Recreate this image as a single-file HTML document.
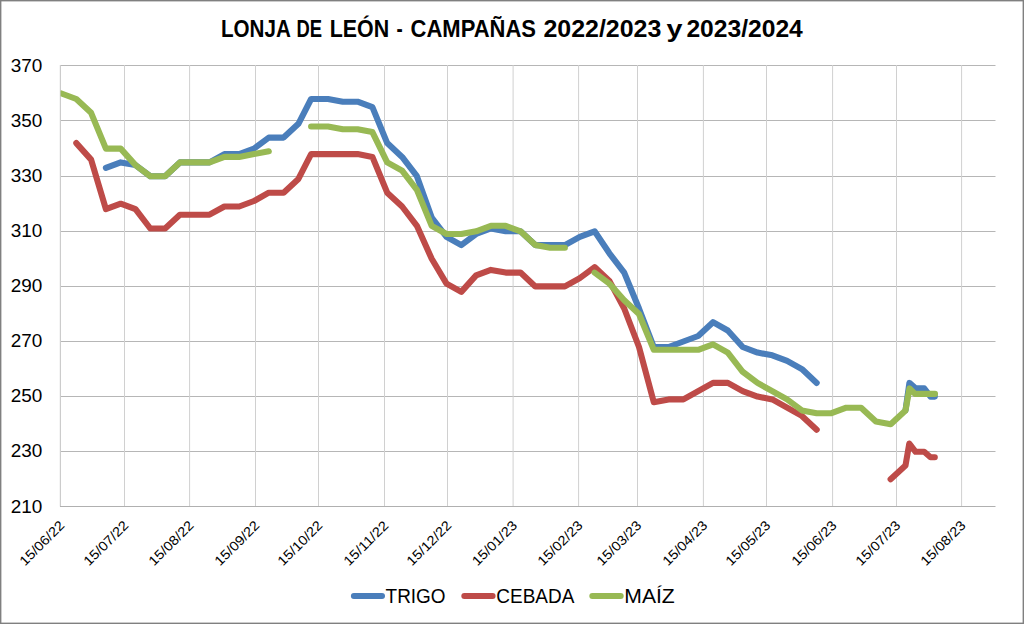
<!DOCTYPE html>
<html><head><meta charset="utf-8"><title>LONJA DE LEÓN - CAMPAÑAS 2022/2023 y 2023/2024</title>
<style>
html,body{margin:0;padding:0;background:#fff;}
body{width:1024px;height:624px;overflow:hidden;}
svg{display:block;}
text{font-family:"Liberation Sans", sans-serif;fill:#000;}
</style></head>
<body>
<svg width="1024" height="624" viewBox="0 0 1024 624">
<rect x="0" y="0" width="1024" height="624" fill="#fff"/>
<rect x="0.7" y="0.7" width="1022.6" height="622.6" fill="none" stroke="#808080" stroke-width="1.4"/>
<g font-weight="bold" font-size="24"><text x="221.00" y="37" textLength="69.80" lengthAdjust="spacingAndGlyphs">LONJA</text><text x="296.40" y="37" textLength="25.60" lengthAdjust="spacingAndGlyphs">DE</text><text x="329.80" y="37" textLength="59.40" lengthAdjust="spacingAndGlyphs">LEÓN</text><text x="396.40" y="37" textLength="6.20" lengthAdjust="spacingAndGlyphs">-</text><text x="410.60" y="37" textLength="125.40" lengthAdjust="spacingAndGlyphs">CAMPAÑAS</text><text x="543.40" y="37" textLength="118.00" lengthAdjust="spacingAndGlyphs">2022/2023</text><text x="666.40" y="37" textLength="16.00" lengthAdjust="spacingAndGlyphs">y</text><text x="686.40" y="37" textLength="116.40" lengthAdjust="spacingAndGlyphs">2023/2024</text></g>
<g stroke-width="1" fill="none">
<line x1="60" y1="65.5" x2="995.5" y2="65.5" stroke="#b6b6b6"/>
<line x1="60" y1="120.5" x2="995.5" y2="120.5" stroke="#b6b6b6"/>
<line x1="60" y1="176.5" x2="995.5" y2="176.5" stroke="#b6b6b6"/>
<line x1="60" y1="231.5" x2="995.5" y2="231.5" stroke="#b6b6b6"/>
<line x1="60" y1="286.5" x2="995.5" y2="286.5" stroke="#b6b6b6"/>
<line x1="60" y1="341.5" x2="995.5" y2="341.5" stroke="#b6b6b6"/>
<line x1="60" y1="396.5" x2="995.5" y2="396.5" stroke="#b6b6b6"/>
<line x1="60" y1="451.5" x2="995.5" y2="451.5" stroke="#b6b6b6"/>
<line x1="124.5" y1="65" x2="124.5" y2="506.5" stroke="#d0d0d0"/>
<line x1="189.6" y1="65" x2="189.6" y2="506.5" stroke="#d0d0d0"/>
<line x1="255.5" y1="65" x2="255.5" y2="506.5" stroke="#d0d0d0"/>
<line x1="318.5" y1="65" x2="318.5" y2="506.5" stroke="#d0d0d0"/>
<line x1="384.5" y1="65" x2="384.5" y2="506.5" stroke="#d0d0d0"/>
<line x1="447.5" y1="65" x2="447.5" y2="506.5" stroke="#d0d0d0"/>
<line x1="513.1" y1="65" x2="513.1" y2="506.5" stroke="#d0d0d0"/>
<line x1="578.6" y1="65" x2="578.6" y2="506.5" stroke="#d0d0d0"/>
<line x1="637.5" y1="65" x2="637.5" y2="506.5" stroke="#d0d0d0"/>
<line x1="703.4" y1="65" x2="703.4" y2="506.5" stroke="#d0d0d0"/>
<line x1="766.5" y1="65" x2="766.5" y2="506.5" stroke="#d0d0d0"/>
<line x1="832.6" y1="65" x2="832.6" y2="506.5" stroke="#d0d0d0"/>
<line x1="896.5" y1="65" x2="896.5" y2="506.5" stroke="#d0d0d0"/>
<line x1="961.6" y1="65" x2="961.6" y2="506.5" stroke="#d0d0d0"/>
</g>
<line x1="60.4" y1="65" x2="60.4" y2="506.5" stroke="#cccccc" stroke-width="1.2"/>
<line x1="60" y1="506.5" x2="995.5" y2="506.5" stroke="#b0b0b0" stroke-width="1"/>
<g font-size="17.5">
<text x="42.4" y="72.1" text-anchor="end" textLength="31.6" lengthAdjust="spacingAndGlyphs">370</text>
<text x="42.4" y="127.2" text-anchor="end" textLength="31.6" lengthAdjust="spacingAndGlyphs">350</text>
<text x="42.4" y="182.3" text-anchor="end" textLength="31.6" lengthAdjust="spacingAndGlyphs">330</text>
<text x="42.4" y="237.2" text-anchor="end" textLength="31.6" lengthAdjust="spacingAndGlyphs">310</text>
<text x="42.4" y="291.8" text-anchor="end" textLength="31.6" lengthAdjust="spacingAndGlyphs">290</text>
<text x="42.4" y="346.9" text-anchor="end" textLength="31.6" lengthAdjust="spacingAndGlyphs">270</text>
<text x="42.4" y="402.1" text-anchor="end" textLength="31.6" lengthAdjust="spacingAndGlyphs">250</text>
<text x="42.4" y="457.2" text-anchor="end" textLength="31.6" lengthAdjust="spacingAndGlyphs">230</text>
<text x="42.4" y="513.1" text-anchor="end" textLength="31.6" lengthAdjust="spacingAndGlyphs">210</text>
</g>
<g font-size="13.4">
<text transform="translate(65.2,526.3) rotate(-45)" text-anchor="end" textLength="57" lengthAdjust="spacingAndGlyphs">15/06/22</text>
<text transform="translate(129.3,526.3) rotate(-45)" text-anchor="end" textLength="57" lengthAdjust="spacingAndGlyphs">15/07/22</text>
<text transform="translate(194.4,526.3) rotate(-45)" text-anchor="end" textLength="57" lengthAdjust="spacingAndGlyphs">15/08/22</text>
<text transform="translate(260.3,526.3) rotate(-45)" text-anchor="end" textLength="57" lengthAdjust="spacingAndGlyphs">15/09/22</text>
<text transform="translate(323.3,526.3) rotate(-45)" text-anchor="end" textLength="57" lengthAdjust="spacingAndGlyphs">15/10/22</text>
<text transform="translate(389.3,526.3) rotate(-45)" text-anchor="end" textLength="57" lengthAdjust="spacingAndGlyphs">15/11/22</text>
<text transform="translate(452.3,526.3) rotate(-45)" text-anchor="end" textLength="57" lengthAdjust="spacingAndGlyphs">15/12/22</text>
<text transform="translate(517.9,526.3) rotate(-45)" text-anchor="end" textLength="57" lengthAdjust="spacingAndGlyphs">15/01/23</text>
<text transform="translate(583.4,526.3) rotate(-45)" text-anchor="end" textLength="57" lengthAdjust="spacingAndGlyphs">15/02/23</text>
<text transform="translate(642.3,526.3) rotate(-45)" text-anchor="end" textLength="57" lengthAdjust="spacingAndGlyphs">15/03/23</text>
<text transform="translate(708.2,526.3) rotate(-45)" text-anchor="end" textLength="57" lengthAdjust="spacingAndGlyphs">15/04/23</text>
<text transform="translate(771.3,526.3) rotate(-45)" text-anchor="end" textLength="57" lengthAdjust="spacingAndGlyphs">15/05/23</text>
<text transform="translate(837.4,526.3) rotate(-45)" text-anchor="end" textLength="57" lengthAdjust="spacingAndGlyphs">15/06/23</text>
<text transform="translate(901.3,526.3) rotate(-45)" text-anchor="end" textLength="57" lengthAdjust="spacingAndGlyphs">15/07/23</text>
<text transform="translate(966.4,526.3) rotate(-45)" text-anchor="end" textLength="57" lengthAdjust="spacingAndGlyphs">15/08/23</text>
</g>
<defs><clipPath id="pa"><rect x="60.6" y="60" width="935" height="446"/></clipPath></defs>
<g fill="none" stroke-width="6.1" stroke-linejoin="round" stroke-linecap="round" clip-path="url(#pa)">
<polyline stroke="#4A7EBB" points="105.9,167.9 120.7,162.4 135.5,165.1 150.3,176.2 165.1,176.2 179.9,162.4 194.7,162.4 209.5,162.4 224.4,154.1 239.2,154.1 254.0,148.6 268.8,137.6 283.6,137.6 298.4,123.8 311.1,99.0 328.0,99.0 342.8,101.7 357.6,101.7 372.4,107.2 387.2,143.1 402.1,156.9 416.9,176.2 431.7,217.5 446.5,236.8 461.3,245.1 476.1,234.0 490.9,228.5 505.7,231.3 520.5,231.3 535.3,245.1 550.1,245.1 564.9,245.1 579.8,236.8 594.6,231.3 609.4,253.3 624.2,272.6 639.0,308.5 653.8,347.0 668.6,347.0 683.4,341.5 698.2,336.0 713.0,322.2 727.8,330.5 742.7,347.0 757.5,352.6 772.3,355.3 787.1,360.8 801.9,369.1 816.7,382.9"/>
<polyline stroke="#4A7EBB" points="905.5,410.4 909.4,382.9 915.6,388.4 924.2,388.4 930.5,396.6 934.8,396.6"/>
<polyline stroke="#BE4B48" points="76.3,143.1 91.1,159.6 105.9,209.2 120.7,203.7 135.5,209.2 150.3,228.5 165.1,228.5 179.9,214.7 194.7,214.7 209.5,214.7 224.4,206.5 239.2,206.5 254.0,201.0 268.8,192.7 283.6,192.7 298.4,178.9 311.1,154.1 328.0,154.1 342.8,154.1 357.6,154.1 372.4,156.9 387.2,192.7 402.1,206.5 416.9,225.8 431.7,258.8 446.5,283.6 461.3,291.9 476.1,275.4 490.9,269.9 505.7,272.6 520.5,272.6 535.3,286.4 550.1,286.4 564.9,286.4 579.8,278.1 594.6,267.1 609.4,280.9 624.2,308.5 639.0,347.0 653.8,402.2 668.6,399.4 683.4,399.4 698.2,391.1 713.0,382.9 727.8,382.9 742.7,391.1 757.5,396.6 772.3,399.4 787.1,407.7 801.9,415.9 816.7,429.7"/>
<polyline stroke="#BE4B48" points="890.6,479.3 905.5,465.6 909.3,443.5 915.6,451.8 924.2,451.8 930.5,457.3 934.8,457.3"/>
<polyline stroke="#98B954" points="61.5,93.5 76.3,99.0 91.1,112.8 105.9,148.6 120.7,148.6 135.5,165.1 150.3,176.2 165.1,176.2 179.9,162.4 194.7,162.4 209.5,162.4 224.4,156.9 239.2,156.9 254.0,154.1 268.8,151.3"/>
<polyline stroke="#98B954" points="311.1,126.5 328.0,126.5 342.8,129.3 357.6,129.3 372.4,132.1 387.2,162.4 402.1,170.6 416.9,189.9 431.7,225.8 446.5,234.0 461.3,234.0 476.1,231.3 490.9,225.8 505.7,225.8 520.5,231.3 535.3,245.1 550.1,247.8 564.9,247.8"/>
<polyline stroke="#98B954" points="594.6,272.6 609.4,283.6 624.2,300.2 639.0,314.0 653.8,349.8 668.6,349.8 683.4,349.8 698.2,349.8 713.0,344.3 727.8,352.6 742.7,371.8 757.5,382.9 772.3,391.1 787.1,399.4 801.9,410.4 816.7,413.2 831.5,413.2 846.3,407.7 861.1,407.7 875.9,421.5 890.7,424.2 905.5,410.4 909.5,388.4 915.0,393.9 935.0,393.9"/>
</g>
<g stroke-width="6" stroke-linecap="round">
<line x1="353.9" y1="596.1" x2="382.0" y2="596.1" stroke="#4A7EBB"/>
<line x1="464.3" y1="596.1" x2="492.6" y2="596.1" stroke="#BE4B48"/>
<line x1="592.3" y1="596.1" x2="620.7" y2="596.1" stroke="#98B954"/>
</g>
<g font-size="19.8">
<text x="385.6" y="602.6" textLength="60" lengthAdjust="spacingAndGlyphs">TRIGO</text>
<text x="496.3" y="602.8" textLength="78" lengthAdjust="spacingAndGlyphs">CEBADA</text>
<text x="624.3" y="602.8" textLength="50.5" lengthAdjust="spacingAndGlyphs">MAÍZ</text>
</g>
</svg>
</body></html>
